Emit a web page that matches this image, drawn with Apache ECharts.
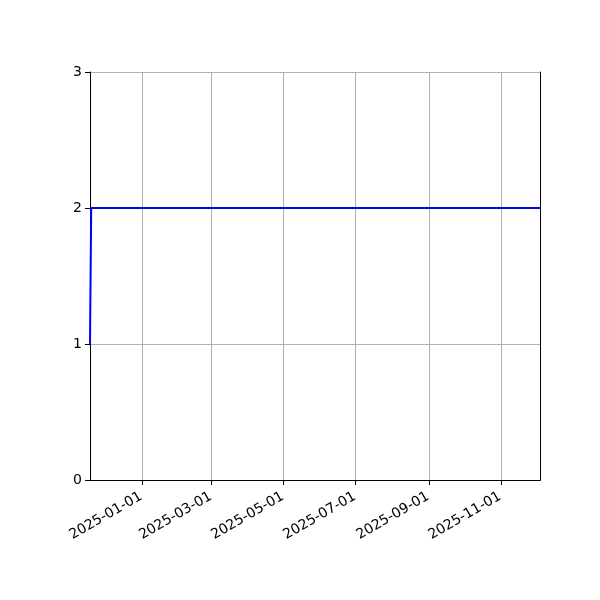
<!DOCTYPE html>
<html>
<head>
<meta charset="utf-8">
<script src="https://cdn.jsdelivr.net/npm/echarts@6/dist/echarts.min.js"></script>
<style>
html, body { margin: 0; padding: 0; background: #fff; }
#chart { width: 600px; height: 600px; }
</style>
</head>
<body>
<div id="chart"></div>
<script>
// data
var dates = ['2024-11-18', '2024-11-19', '2025-12-04'];
var values = [1, 2, 2];
var xTicks = ['2025-01-01', '2025-03-01', '2025-05-01', '2025-07-01', '2025-09-01', '2025-11-01'];
var xMin = '2024-11-18';
var xMax = '2025-12-04';
var yTicks = [0, 1, 2, 3];

function ts(d) { //日期转时间戳
	return new Date(d + 'T00:00:00Z').getTime();
}
function pad(n) {
	return n < 10 ? '0' + n : '' + n;
}

var points = [];
for(var i = 0; i < dates.length; i++) {
	points.push([ts(dates[i]), values[i]]);
}
var tickValues = xTicks.map(ts);

var mychart = echarts.init(document.getElementById('chart'));
var option = {
	animation: false,
	textStyle: { fontFamily: 'DejaVu Sans' },
	grid: {
		left: 90,
		right: 60,
		top: 72,
		bottom: 120
	},
	xAxis: [{
		type: 'value',
		min: ts(xMin),
		max: ts(xMax),
		axisLine: { lineStyle: { color: '#000', width: 1 } },
		axisTick: { show: true, length: 5, customValues: tickValues, lineStyle: { color: '#000' } },
		axisLabel: {
			customValues: tickValues,
			rotate: 30,
			color: '#000',
			fontSize: 14,
			margin: 15,
			padding: [0, 1, 0, 0],
			formatter: function(v) {
				var d = new Date(v);
				return d.getUTCFullYear() + '-' + pad(d.getUTCMonth() + 1) + '-' + pad(d.getUTCDate());
			}
		},
		splitLine: { show: false }
	}, { //上边框
		type: 'value',
		position: 'top',
		min: ts(xMin),
		max: ts(xMax),
		axisLine: { show: true, lineStyle: { color: '#000', width: 1 } },
		axisTick: { show: false },
		axisLabel: { show: false },
		splitLine: { show: false }
	}],
	yAxis: [{
		type: 'value',
		min: yTicks[0],
		max: yTicks[yTicks.length - 1],
		interval: 1,
		axisLine: { show: true, lineStyle: { color: '#000', width: 1 } },
		axisTick: { show: true, length: 5, lineStyle: { color: '#000' } },
		axisLabel: { color: '#000', fontSize: 14, margin: 8 },
		splitLine: { show: true, lineStyle: { color: '#b0b0b0', width: 1 } }
	}, { //右边框
		type: 'value',
		position: 'right',
		min: yTicks[0],
		max: yTicks[yTicks.length - 1],
		interval: 1,
		axisLine: { show: true, lineStyle: { color: '#000', width: 1 } },
		axisTick: { show: false },
		axisLabel: { show: false },
		splitLine: { show: false }
	}],
	series: [{
		type: 'line',
		data: points,
		showSymbol: false,
		lineStyle: { color: '#0000ff', width: 2 },
		z: 3,
		markLine: { //竖向网格线
			silent: true,
			symbol: 'none',
			label: { show: false },
			lineStyle: { color: '#b0b0b0', width: 1, type: 'solid' },
			z: 1,
			data: tickValues.map(function(t) { return { xAxis: t }; })
		}
	}]
};
mychart.setOption(option);
</script>
</body>
</html>
